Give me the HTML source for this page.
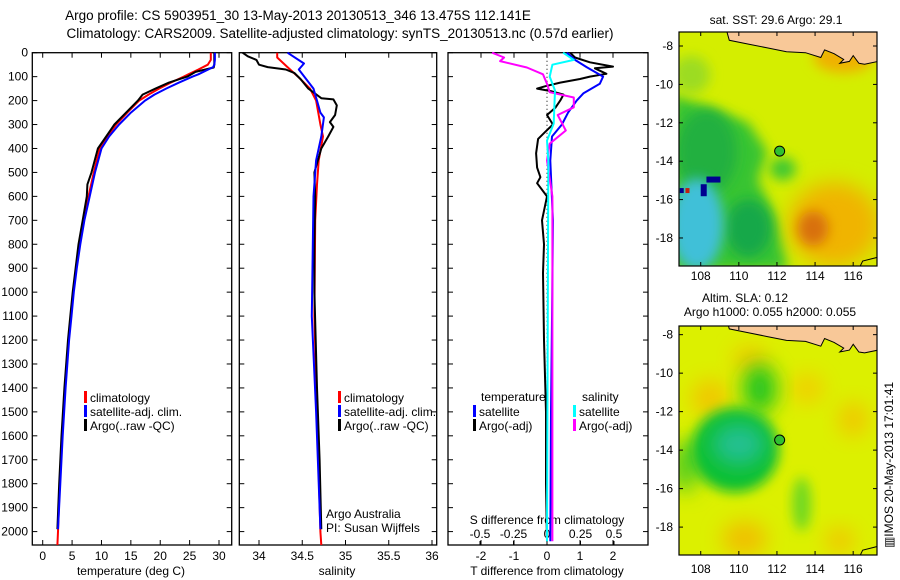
<!DOCTYPE html>
<html><head><meta charset="utf-8">
<style>
html,body{margin:0;padding:0;background:#fff;}
svg{display:block;font-family:"Liberation Sans",sans-serif;}
</style></head>
<body>
<svg id="c" width="900" height="580" viewBox="0 0 900 580" xmlns="http://www.w3.org/2000/svg">
<defs>
<filter id="blur6" x="-50%" y="-50%" width="200%" height="200%"><feGaussianBlur stdDeviation="6"/></filter>
<filter id="blur10" x="-50%" y="-50%" width="200%" height="200%"><feGaussianBlur stdDeviation="10"/></filter>
<clipPath id="clipTop"><rect x="679" y="32" width="198" height="234"/></clipPath>
<clipPath id="clipBot"><rect x="679" y="326" width="198" height="229"/></clipPath>
</defs>
<text x="298" y="20" font-size="13.5" text-anchor="middle">Argo profile: CS 5903951_30 13-May-2013 20130513_346 13.475S 112.141E</text>
<text x="340" y="38" font-size="13.5" text-anchor="middle">Climatology: CARS2009. Satellite-adjusted climatology: synTS_20130513.nc (0.57d earlier)</text>
<g id="g"></g>
</svg>
<script>
// ---------- data ----------
const depthTicks = [0,100,200,300,400,500,600,700,800,900,1000,1100,1200,1300,1400,1500,1600,1700,1800,1900,2000];
const tempTicks = [0,5,10,15,20,25,30];
const salTicks = [34,34.5,35,35.5,36];
const tDiffTicks = [-2,-1,0,1,2];
const sDiffTicks = [-0.5,-0.25,0,0.25,0.5];

const tClimDepth = [0,30,50,70,90,100,125,150,175,200,250,300,350,400,500,600,700,800,900,1000,1100,1200,1400,1600,1800,2000,2056];
const tClim = [28.6,28.6,28.1,26.5,24.8,24,21.8,19.8,18,16.4,14.4,12.5,11,9.7,8.7,7.8,6.9,6.2,5.7,5.2,4.8,4.4,3.8,3.3,2.9,2.6,2.5];
const tSatDepth = [0,30,50,60,90,100,125,150,175,200,250,300,350,400,500,600,700,800,900,1000,1100,1200,1400,1600,1800,1990];
const tSat = [29.3,29.3,29.2,29.0,26.5,25.5,23.2,21,19,17.4,15,13,11.3,10,8.9,8,7.1,6.4,5.8,5.3,4.9,4.5,3.9,3.4,3.0,2.6];
const tArgoDepth = [0,30,50,62,80,100,125,150,175,200,250,300,350,400,500,550,600,700,800,900,1000,1100,1200,1400,1600,1800,1990];
const tArgo = [29.2,29.2,29.2,29.1,26,24.6,21.5,19.2,17,16.2,14.2,12.2,10.8,9.4,8.3,7.6,7.5,6.8,6.1,5.6,5.1,4.7,4.3,3.7,3.2,2.8,2.5];

const sClimDepth = [0,20,60,100,150,200,300,350,450,550,700,1100,1500,2000,2056];
const sClim = [34.21,34.21,34.33,34.45,34.59,34.66,34.71,34.74,34.69,34.67,34.65,34.64,34.67,34.71,34.72];
const sSatDepth = [0,45,70,150,200,250,270,350,450,600,1100,1500,1990];
const sSat = [34.33,34.52,34.46,34.63,34.67,34.71,34.75,34.72,34.66,34.63,34.61,34.66,34.71];
const sArgoDepth = [0,15,30,50,60,70,85,110,150,190,195,220,260,290,310,350,400,500,600,800,1000,1400,1700,1990];
const sArgo = [33.81,33.87,33.97,34.0,34.1,34.31,34.41,34.48,34.57,34.72,34.86,34.9,34.88,34.82,34.86,34.8,34.72,34.64,34.65,34.64,34.64,34.67,34.7,34.72];

const dtSatDepth = [0,30,60,100,130,170,200,250,300,350,450,700,1000,1500,2040];
const dtSat = [0.6,0.85,1.2,1.7,1.6,1.1,0.9,0.64,0.45,0.15,0.1,0.18,0.16,0.12,0.1];
const dtArgoDepth = [0,20,40,58,65,75,88,100,110,125,140,150,160,175,200,230,260,300,330,360,420,480,520,545,600,700,800,920,1200,1500,1800,2040];
const dtArgo = [0.7,0.85,1.3,2.0,1.45,1.6,1.8,1.3,1.0,0.4,-0.05,-0.3,0.1,0.5,0.4,0.25,0,0.18,-0.05,-0.27,-0.33,-0.3,-0.2,-0.3,0,-0.15,-0.09,-0.12,-0.09,-0.03,-0.03,0];
const dsArgoDepth = [0,20,35,62,90,130,165,187,228,260,325,380,450,600,2040];
const dsArgo = [-0.41,-0.32,-0.35,-0.15,-0.03,0,0.02,0.2,0.2,0.08,0.14,0.02,0,0.04,0.04];
const dsSatDepth = [0,30,50,100,158,296,367,450,2040];
const dsSat = [0.12,0.2,0.04,0.02,0.06,0.05,0,0.01,0];

const profileLat = -13.475, profileLon = 112.141;

// ---------- helpers ----------
const NS = 'http://www.w3.org/2000/svg';
const G = document.getElementById('g');
function mk(tag, attrs, parent){
  const e = document.createElementNS(NS, tag);
  for (const k in attrs) e.setAttribute(k, attrs[k]);
  (parent||G).appendChild(e);
  return e;
}
const Y0 = 52.7, Y1 = 545, DMAX = 2056;
function yD(d){ return Y0 + d*(Y1-Y0)/DMAX; }
function lin(v0,p0,v1,p1){ return v => p0 + (v-v0)*(p1-p0)/(v1-v0); }

const xT = lin(0,42.7,30,219);
const xS = lin(34,259,36,432);
const xDT = lin(0,547,2,613);
const xDS = lin(0,547,0.5,614);

function frame(x0,x1,name){
  const r = mk('rect',{x:x0,y:Y0,width:x1-x0,height:Y1-Y0,fill:'none',stroke:'#000','stroke-width':1.3});
  
  
  for (const d of depthTicks){
    const y = yD(d);
    mk('line',{x1:x0,x2:x0+5,y1:y,y2:y,stroke:'#000'});
    mk('line',{x1:x1-5,x2:x1,y1:y,y2:y,stroke:'#000'});
  }
}
function xAxis(ticks, xf, labels, ly, name){
  ticks.forEach((t,i)=>{
    const x = xf(t);
    mk('line',{x1:x,x2:x,y1:Y1,y2:Y1-5,stroke:'#000'});
    mk('line',{x1:x,x2:x,y1:Y0,y2:Y0+5,stroke:'#000'});
    const tx = mk('text',{x:x,y:ly,'font-size':12,'text-anchor':'middle'});
    tx.textContent = labels ? labels[i] : String(t);
    
    
  });
}
function line(depths, vals, xf, color, name, w){
  const pts = depths.map((d,i)=> xf(vals[i]).toFixed(1)+','+yD(d).toFixed(1)).join(' ');
  const p = mk('polyline',{points:pts,fill:'none',stroke:color,'stroke-width':w||2,'stroke-linejoin':'round'});
  
  
}
function txt(x,y,s,name,opts){
  const a = Object.assign({x:x,y:y,'font-size':12}, opts||{});
  const t = mk('text',a);
  t.textContent = s;
  
  
  return t;
}
function legendItem(x,y,color,label,name){
  mk('rect',{x:x,y:y-11,width:3,height:12,fill:color});
  txt(x+6,y,label,name);
}

// ---------- panel 1: temperature ----------
frame(32.3,231.7,'temperature-panel-frame');
depthTicks.forEach(d=>{
  txt(28, yD(d)+4, String(d), 'depth-tick-label', {'text-anchor':'end'});
});
xAxis(tempTicks, xT, null, 560, 'temperature');
txt(131,575,'temperature (deg C)','temperature-axis-title',{'text-anchor':'middle'});
line(tClimDepth,tClim,xT,'#ff0000','temperature-climatology-line');
line(tArgoDepth,tArgo,xT,'#000000','temperature-argo-line');
line(tSatDepth,tSat,xT,'#0000ff','temperature-satellite-line');
legendItem(84,402,'#ff0000','climatology','legend-climatology');
legendItem(84,416,'#0000ff','satellite-adj. clim.','legend-satellite-adj');
legendItem(84,430,'#000000','Argo(..raw -QC)','legend-argo');

// ---------- panel 2: salinity ----------
frame(239.3,436.7,'salinity-panel-frame');
xAxis(salTicks, xS, ['34','34.5','35','35.5','36'], 560, 'salinity');
txt(337,575,'salinity','salinity-axis-title',{'text-anchor':'middle'});
line(sClimDepth,sClim,xS,'#ff0000','salinity-climatology-line');
line(sArgoDepth,sArgo,xS,'#000000','salinity-argo-line');
line(sSatDepth,sSat,xS,'#0000ff','salinity-satellite-line');
legendItem(338,402,'#ff0000','climatology','legend2-climatology');
legendItem(338,416,'#0000ff','satellite-adj. clim.','legend2-satellite-adj');
legendItem(338,430,'#000000','Argo(..raw -QC)','legend2-argo');
txt(326,518,'Argo Australia','institution-label');
txt(326,532,'PI: Susan Wijffels','pi-label');

// ---------- panel 3: differences ----------
frame(448,648,'difference-panel-frame');
mk('line',{x1:547,x2:547,y1:Y0,y2:Y1,stroke:'#000','stroke-dasharray':'1,3'});
xAxis(tDiffTicks, xDT, null, 560, 't-diff');
sDiffTicks.forEach(t=>{
  const x = xDS(t);
  mk('line',{x1:x,x2:x,y1:Y1,y2:Y1-4,stroke:'#000'});
  txt(x,538,String(t),'s-diff-tick-label',{'text-anchor':'middle'});
});
txt(547,524,'S difference from climatology','s-diff-axis-title',{'text-anchor':'middle'});
txt(547,575,'T difference from climatology','t-diff-axis-title',{'text-anchor':'middle'});
line(dtArgoDepth,dtArgo,xDT,'#000000','t-diff-argo-line');
line(dtSatDepth,dtSat,xDT,'#0000ff','t-diff-satellite-line');
line(dsArgoDepth,dsArgo,xDS,'#ff00ff','s-diff-argo-line');
line(dsSatDepth,dsSat,xDS,'#00ffff','s-diff-satellite-line');
txt(481,401,'temperature','legend3-temperature-header');
txt(582,401,'salinity','legend3-salinity-header');
legendItem(473,416,'#0000ff','satellite','legend3-t-satellite');
legendItem(473,430,'#000000','Argo(-adj)','legend3-t-argo');
legendItem(573,416,'#00ffff','satellite','legend3-s-satellite');
legendItem(573,430,'#ff00ff','Argo(-adj)','legend3-s-argo');

// ---------- maps ----------
const lonTicks = [108,110,112,114,116];
const latTicks = [-8,-10,-12,-14,-16,-18];
function mapGeo(top,bottom,latTop,latBot){
  return {x: lin(106.86,679,117.25,877), y: lin(latTop,top,latBot,bottom)};
}
function blob(gp,m,lon,lat,rx,ry,color,filt){
  mk('ellipse',{cx:m.x(lon),cy:m.y(lat),rx:rx*19,ry:ry*19.2,fill:color,filter:'url(#'+filt+')'},gp);
}
function land(gp,m){
  const coast = [[109.3,-7.0],[109.5,-7.7],[110.5,-7.9],[111.5,-8.1],[112.5,-8.3],[113.5,-8.35],[114.3,-8.6],[114.5,-8.2],[115,-8.4],[115.5,-8.7],[115.3,-8.9],[115.8,-8.8],[116,-8.5],[116.3,-8.9],[116.6,-8.95],[117.3,-8.8],[117.3,-7.0]];
  const pts = coast.map(c=>m.x(c[0]).toFixed(1)+','+m.y(c[1]).toFixed(1)).join(' ');
  mk('polygon',{points:pts,fill:'#f8c898',stroke:'#000','stroke-width':1},gp);
  const pts2 = [[116.3,-19.6],[116.5,-19.2],[117.3,-19.0]].map(c=>m.x(c[0]).toFixed(1)+','+m.y(c[1]).toFixed(1)).join(' ');
  mk('polyline',{points:pts2,fill:'none',stroke:'#000','stroke-width':1},gp);
}
function mapAxes(top,bottom,m,lbly,name){
  const r = mk('rect',{x:679,y:top,width:198,height:bottom-top,fill:'none',stroke:'#000','stroke-width':1.2});
  
  
  lonTicks.forEach(l=>{
    const x = m.x(l);
    mk('line',{x1:x,x2:x,y1:bottom,y2:bottom-4,stroke:'#000'});
    mk('line',{x1:x,x2:x,y1:top,y2:top+4,stroke:'#000'});
    txt(x,lbly,String(l),name+'-lon-label',{'text-anchor':'middle'});
  });
  latTicks.forEach(l=>{
    const y = m.y(l);
    mk('line',{x1:679,x2:683,y1:y,y2:y,stroke:'#000'});
    mk('line',{x1:873,x2:877,y1:y,y2:y,stroke:'#000'});
    txt(673,y+4,String(l),name+'-lat-label',{'text-anchor':'end'});
  });
  const c = mk('circle',{cx:m.x(profileLon),cy:m.y(profileLat),r:5,fill:'#30c030',stroke:'#000','stroke-width':1});
  
  
}

// top map: SST
const mT = mapGeo(32,266,-7.27,-19.46);
const gT = mk('g',{'clip-path':'url(#clipTop)'});


mk('rect',{x:679,y:32,width:198,height:234,fill:'#d4ee00'},gT);
mk('polygon',{points:[[106.5,-10.5],[108.5,-11.2],[110.5,-12],[111.5,-13.5],[111,-15],[112,-17],[112.6,-19.7],[106.5,-19.7]].map(c=>mT.x(c[0])+','+mT.y(c[1])).join(' '),fill:'#38c430',filter:'url(#blur6)'},gT);
blob(gT,mT,108.3,-13.5,1.6,2.2,'#20b040','blur6');
blob(gT,mT,110.5,-17.5,1.2,1.5,'#18a848','blur6');
blob(gT,mT,107.8,-17.3,1.4,2.4,'#40c0d8','blur6');
blob(gT,mT,112.3,-14.4,0.7,0.6,'#40c830','blur6');
blob(gT,mT,107.5,-9.5,1,1,'#9cdc20','blur6');
blob(gT,mT,115,-17.3,2.4,2.2,'#f0b400','blur10');
blob(gT,mT,113.9,-17.5,0.8,0.9,'#d87010','blur6');
blob(gT,mT,115.5,-8.6,1.6,0.8,'#f0b000','blur6');
mk('rect',{x:mT.x(108.3),y:mT.y(-14.8),width:14,height:6,fill:'#000090'},gT);
mk('rect',{x:mT.x(108.0),y:mT.y(-15.2),width:6,height:12,fill:'#000090'},gT);
mk('rect',{x:mT.x(106.9),y:mT.y(-15.4),width:4,height:5,fill:'#000090'},gT);
mk('rect',{x:mT.x(107.2),y:mT.y(-15.4),width:4,height:5,fill:'#c02010'},gT);
land(gT,mT);
mapAxes(32,266,mT,280,'sst-map');
txt(776,24,'sat. SST: 29.6 Argo: 29.1','sst-map-title',{'text-anchor':'middle'});

// bottom map: SLA
const mB = mapGeo(326,555,-7.55,-19.45);
const gB = mk('g',{'clip-path':'url(#clipBot)'});


mk('rect',{x:679,y:326,width:198,height:229,fill:'#dcf000'},gB);
blob(gB,mB,108.5,-11.3,1.0,1.0,'#f0c800','blur10');
blob(gB,mB,110.6,-9.3,0.9,0.7,'#f0c800','blur10');
blob(gB,mB,113.6,-10.8,0.9,0.8,'#f0d000','blur10');
blob(gB,mB,116,-12.4,0.8,0.9,'#f0c800','blur10');
blob(gB,mB,110.3,-18.6,1.2,0.9,'#f0c000','blur10');
blob(gB,mB,115.3,-18.7,0.8,0.7,'#f0c800','blur10');
blob(gB,mB,113.3,-16.8,0.5,1.4,'#70d820','blur6');
blob(gB,mB,107.2,-14.8,0.7,1.4,'#50cc20','blur10');
blob(gB,mB,111.1,-10.8,0.9,1.3,'#20c420','blur10');
blob(gB,mB,109.8,-14.0,2.3,2.2,'#10c030','blur6');
blob(gB,mB,110.0,-13.7,1.4,1.1,'#20c090','blur10');
land(gB,mB);
mapAxes(326,555,mB,573,'sla-map');
txt(745,302,'Altim. SLA: 0.12','sla-map-title',{'text-anchor':'middle'});
txt(770,316,'Argo h1000: 0.055 h2000: 0.055','sla-map-subtitle',{'text-anchor':'middle'});

txt(0,0,'▥IMOS 20-May-2013 17:01:41','timestamp-label',{'text-anchor':'middle','transform':'translate(893,465) rotate(-90)'});
</script>
</body></html>
